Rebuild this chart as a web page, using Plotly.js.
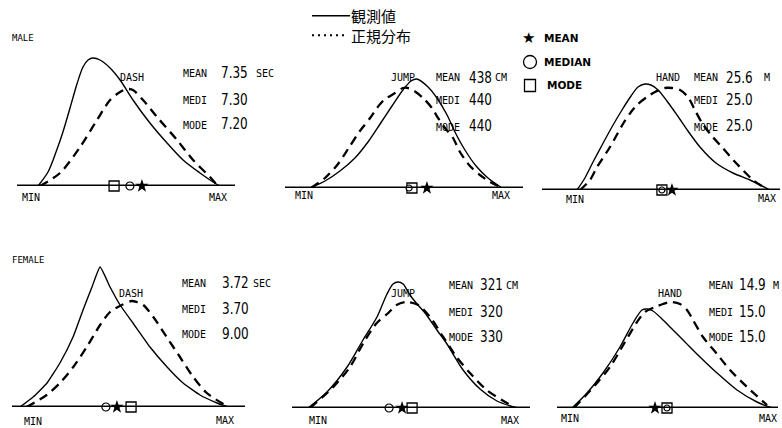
<!DOCTYPE html>
<html><head><meta charset="utf-8">
<script src="https://cdn.plot.ly/plotly-3.0.1.min.js"></script>
<style>html,body{margin:0;padding:0;background:#fff}</style>
</head><body>
<div id="chart" style="width:782px;height:428px"></div>
<script>
// ---------------- DATA ----------------
// x: position between MIN (0) and MAX (100); y: relative frequency
const sexLabels   = ['MALE', 'FEMALE'];
const eventNames  = ['DASH', 'JUMP', 'HAND', 'DASH', 'JUMP', 'HAND'];
const meanText    = ['7.35', '438', '25.6', '3.72', '321', '14.9'];
const medianText  = ['7.30', '440', '25.0', '3.70', '320', '15.0'];
const modeText    = ['7.20', '440', '25.0', '9.00', '330', '15.0'];
const unitText    = ['SEC', 'CM', 'M', 'SEC', 'CM', 'M'];
const keyLines    = ['観測値', '正規分布'];
const keyMarkers  = ['MEAN', 'MEDIAN', 'MODE'];

// observed (solid)
const obsX1 = [0,5.5,9.9,13.7,17.6,21.4,24.7,27.5,30.2,34.1,39.6,45.1,52.2,61.5,70.9,79.7,89,96.2,100];
const obsY1 = [0,14,34,54,78,102,119,126,128,126,118,106,86,63,43,26,13,4,0];
const obsX2 = [0,7.8,15.6,23.4,30.2,36.5,42.7,48.4,52.6,55.7,61.5,66.1,71.4,75.5,80.7,86.5,92.7,100];
const obsY2 = [0,7,17,30,46,64,82,98,107,109,101,90,73,56,38,22,10,0];
const obsX3 = [0,4.1,8.3,13,18.1,23.3,28,31.6,35.2,38.3,42,46.6,51.8,57.5,63.7,72,80.8,89.6,95.9,100];
const obsY3 = [0,12,28,45,63,80,94,103,106,105,100,89,75,59,43,27,17,10,4,0];
const obsX4 = [0,6.3,13,19.2,25.5,30.3,34.6,38.5,43.3,48.1,54.3,62.5,70.7,78.4,86.5,94.7,100];
const obsY4 = [0,10,24,44,70,97,120,140,120,102,84,60,40,24,12,4,0];
const obsX5 = [0,9.1,18.7,26.3,33,37.8,40.7,43.1,45.5,48.8,52.6,56,61.7,66.5,74.2,82.3,90.4,100];
const obsY5 = [0,16,41,68,91,114,124,126,124,113,103,95,78,64,38,19,7,0];
const obsX6 = [0,7.5,15.5,24,30.5,35,37.5,40.5,45.5,50.5,56.5,64,72.5,82.5,92.5,100];
const obsY6 = [0,15,35,61,85,98,99,97,88,78,66,51,35,18,6,0];

// normal distribution (dashed)
const normX1 = [1.1,12.1,23.1,32.4,39.6,45.1,48.9,52.2,57.7,65.4,76.4,85.2,94.5,98.9];
const normY1 = [0,13,39,66,86,94,97,96,86,69,46,26,9,0];
const normX2 = [0.5,7.8,14.6,20.8,26,31.3,34.9,38.5,44.3,48.4,51,53.6,58.9,63.5,66.7,70.3,74.5,78.1,83.3,88.5,93.8,99];
const normY2 = [0,10,24,42,57,70,80,88,95,100,100,98,90,80,70,60,50,36,22,13,6,1];
const normX3 = [1.6,6.7,10.4,17.1,23.8,28,31.6,36.3,40.4,45.6,49.2,53.4,57.5,61.1,64.8,69.9,75.1,82.9,91.2,99];
const normY3 = [0,10,23,43,66,78,86,93,98,102,102,100,93,80,67,54,43,26,10,0];
const normX4 = [3.2,12.8,19.2,25.6,32.1,38.5,43.3,48.9,53.7,56.1,59.3,64.1,70.5,76.9,83.3,89.8,99.4];
const normY4 = [0,12,24,40,60,82,95,102,106,105,102,90,70,50,30,14,1];
const normX5 = [1,12.1,20.1,26.5,32.9,38.4,42.4,47.2,52.8,58.4,64.7,71.1,77.5,85.5,96.7,99];
const normY5 = [0,21,41,65,85,95,103,106,103,91,71,51,35,18,3,0];
const normX6 = [1,12.5,19,26.5,32.5,36.5,41.5,45.5,49.5,54,57.5,60.5,65.5,72.5,79,87.5,97.5];
const normY6 = [0,25,41,66,86,96,101,104,106,104,98,88,71,54,38,21,3];

// mean / median / mode positions on the MIN–MAX scale
const meanPos   = [57.1, 60.9, 49.2, 46.6, 45.0, 41.5];
const medianPos = [50.5, 51.6, 44.0, 41.3, 38.8, 47.5];
const modePos   = [41.8, 53.1, 44.0, 53.4, 49.8, 47.5];
const medianInsideMode = [false, true, true, false, false, true];

const obsX  = [obsX1, obsX2, obsX3, obsX4, obsX5, obsX6];
const obsY  = [obsY1, obsY2, obsY3, obsY4, obsY5, obsY6];
const normX = [normX1, normX2, normX3, normX4, normX5, normX6];
const normY = [normY1, normY2, normY3, normY4, normY5, normY6];

// ---------------- LAYOUT ----------------
const W = 782, H = 428, YSPAN = 150;
const geom = [
  {x0:17,  x1:235, cs:38,  ce:220, yb:186},
  {x0:285, x1:523, cs:310, ce:502, yb:188},
  {x0:542, x1:780, cs:577, ce:770, yb:190},
  {x0:12,  x1:245, cs:20,  ce:228, yb:407},
  {x0:292, x1:530, cs:308, ce:517, yb:408},
  {x0:557, x1:778, cs:572, ce:772, yb:408}
];
const textPos = [
  {lx:181, nx:219, ux:254, rows:[74,100,125],  ev:[132,77],  mn:[31,197],  mx:[218,197]},
  {lx:434, nx:467, ux:493, rows:[78,100,127],  ev:[403,78],  mn:[304,196], mx:[501,196]},
  {lx:692, nx:724, ux:762, rows:[78,100,127],  ev:[668,78],  mn:[575,199], mx:[767,198]},
  {lx:180, nx:220, ux:251, rows:[283,309,334], ev:[131,293], mn:[33,421],  mx:[225,420]},
  {lx:447, nx:478, ux:504, rows:[285,312,337], ev:[403,293], mn:[318,420], mx:[510,420]},
  {lx:707, nx:737, ux:771, rows:[285,312,337], ev:[670,293], mn:[570,418], mx:[768,418]}
];

const INK = '#000';
const LBL = 'DejaVu Sans Mono, Liberation Mono, monospace';
const NUM = 'DejaVu Sans, sans-serif';
const CJK = 'Noto Sans CJK JP, Noto Sans CJK SC, sans-serif';
const NUM_SCALE = 0.75;   // tall, narrow numerals of the original lettering

const px = v => v / W;
const py = v => 1 - v / H;

const layout = {
  width: W, height: H,
  margin: {l:0, r:0, t:0, b:0},
  paper_bgcolor: '#fff', plot_bgcolor: 'rgba(0,0,0,0)',
  showlegend: false,
  shapes: [], annotations: []
};
const data = [];
const narrowIdx = [];

function ann(text, x, y, size, family, anchor, extra) {
  layout.annotations.push(Object.assign({
    text: text, xref: 'paper', yref: 'paper', x: px(x), y: py(y),
    xanchor: anchor || 'left', yanchor: 'middle', showarrow: false,
    font: {size: size, family: family, color: INK}
  }, extra || {}));
  return layout.annotations.length - 1;
}

geom.forEach((g, i) => {
  const n = i === 0 ? '' : String(i + 1);
  const k = (g.ce - g.cs) / 100;
  layout['xaxis' + n] = {
    domain: [px(g.x0), px(g.x1)], range: [(g.x0 - g.cs) / k, (g.x1 - g.cs) / k],
    visible: false, fixedrange: true, anchor: 'y' + n
  };
  layout['yaxis' + n] = {
    domain: [(H - g.yb) / H, (H - g.yb + YSPAN) / H], range: [0, YSPAN],
    visible: false, fixedrange: true, anchor: 'x' + n
  };
  // baseline
  layout.shapes.push({type:'line', xref:'x' + n + ' domain', yref:'y' + n,
    x0:0, x1:1, y0:0, y1:0, line:{color:INK, width:3}});

  const ax = {xaxis:'x' + n, yaxis:'y' + n, cliponaxis:false, hoverinfo:'skip'};
  data.push(Object.assign({type:'scatter', mode:'lines', x:normX[i], y:normY[i],
    line:{color:INK, width:2.3, dash:'9px,6px', shape:'spline', smoothing:0.8}}, ax));
  data.push(Object.assign({type:'scatter', mode:'lines', x:obsX[i], y:obsY[i],
    line:{color:INK, width:1.4, shape:'spline', smoothing: i === 3 ? 0.4 : 0.8}}, ax));
  data.push(Object.assign({type:'scatter', mode:'markers', x:[modePos[i]], y:[0],
    marker:{symbol:'square', size:10, color:'#fff', line:{color:INK, width:1.3}}}, ax));
  data.push(Object.assign({type:'scatter', mode:'markers', x:[medianPos[i]], y:[0],
    marker:{symbol:'circle', size: medianInsideMode[i] ? 6 : 8, color:'#fff', line:{color:INK, width:1.2}}}, ax));
  data.push(Object.assign({type:'scatter', mode:'markers', x:[meanPos[i]], y:[0],
    marker:{symbol:'star', size:10, color:INK, line:{width:0}}}, ax));

  const t = textPos[i];
  ann(eventNames[i], t.ev[0], t.ev[1], 10, LBL, 'center');
  ann('MEAN', t.lx, t.rows[0], 10, LBL);
  ann('MEDI', t.lx, t.rows[1], 10, LBL);
  ann('MODE', t.lx, t.rows[2], 10, LBL);
  narrowIdx.push(ann(meanText[i],   t.nx, t.rows[0] - 1, 16, NUM));
  narrowIdx.push(ann(medianText[i], t.nx, t.rows[1] - 1, 16, NUM));
  narrowIdx.push(ann(modeText[i],   t.nx, t.rows[2] - 1, 16, NUM));
  ann(unitText[i], t.ux, t.rows[0], 10, LBL);
  ann('MIN', t.mn[0], t.mn[1], 10, LBL, 'center');
  ann('MAX', t.mx[0], t.mx[1], 10, LBL, 'center');
});

ann(sexLabels[0], 10, 38, 9, LBL);
ann(sexLabels[1], 10, 260, 9, LBL);

// line key (top centre): two rows in one text block
const KEY_SIZE = 15, KEY_MID = 25.5, KEY_STEP = KEY_SIZE * 1.3;
layout.shapes.push({type:'line', xref:'paper', yref:'paper', x0:px(312), x1:px(350),
  y0:py(KEY_MID - KEY_STEP / 2), y1:py(KEY_MID - KEY_STEP / 2), line:{color:INK, width:1.3}});
layout.shapes.push({type:'line', xref:'paper', yref:'paper', x0:px(312), x1:px(348),
  y0:py(KEY_MID + KEY_STEP / 2), y1:py(KEY_MID + KEY_STEP / 2), line:{color:INK, width:2.2, dash:'2px,4px'}});
ann(keyLines.join('<br>'), 349, KEY_MID, KEY_SIZE, CJK, 'left', {align:'left'});

// marker key (top right)
ann('★', 528, 38, 15, 'DejaVu Sans', 'center');
layout.shapes.push({type:'circle', xref:'paper', yref:'paper', x0:px(523.5), x1:px(536.5), y0:py(55.5), y1:py(68.5),
  line:{color:INK, width:1.3}});
layout.shapes.push({type:'rect', xref:'paper', yref:'paper', x0:px(524.5), x1:px(535.5), y0:py(79.5), y1:py(91.5),
  line:{color:INK, width:1.3}});
const keyFont = {size:10.5, family:'DejaVu Sans', color:INK, weight:700};
ann(keyMarkers[0], 542, 38, 10.5, 'DejaVu Sans', 'left', {font:keyFont});
ann(keyMarkers[1], 542, 62, 10.5, 'DejaVu Sans', 'left', {font:keyFont});
ann(keyMarkers[2], 545, 85, 10.5, 'DejaVu Sans', 'left', {font:keyFont});

Plotly.newPlot('chart', data, layout, {staticPlot:true, displayModeBar:false}).then(gd => {
  narrowIdx.forEach(idx => {
    const t = gd.querySelector('.annotation[data-index="' + idx + '"] .annotation-text');
    if (t) {
      t.style.transformBox = 'fill-box';
      t.style.transformOrigin = '0% 50%';
      t.style.transform = 'scaleX(' + NUM_SCALE + ')';
    }
  });
});
</script>
</body></html>
